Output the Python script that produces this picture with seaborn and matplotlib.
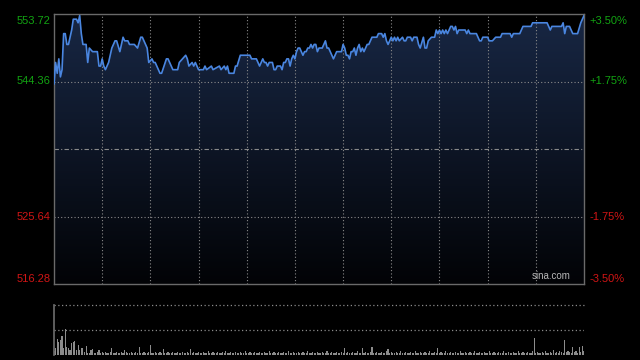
import numpy as np
import matplotlib
matplotlib.use("Agg")
import matplotlib.pyplot as plt
from matplotlib.patches import PathPatch
from matplotlib.colors import to_rgba
import seaborn as sns

# ---- data ----
prev_close = 535.0
y_labels_left = ["553.72", "544.36", "525.64", "516.28"]
y_levels = [553.72, 544.36, 525.64, 516.28]
y_labels_right = ["+3.50%", "+1.75%", "-1.75%", "-3.50%"]

minutes = [0, 1, 2, 3, 4, 5, 6, 7, 8, 9, 11, 12, 14, 15, 16, 17, 18, 20, 21, 22,
           24, 27, 28, 29, 30, 31, 32, 34, 35, 36, 38, 39, 41, 43, 44, 46, 47, 50, 52, 54,
           55, 58, 59, 61, 62, 63, 66, 67, 70, 71, 74, 77, 78, 80, 82, 83, 84, 86, 87, 88,
           89, 90, 93, 94, 95, 98, 99, 103, 104, 106, 107, 108, 109, 110, 112, 113, 114, 116, 117, 122,
           123, 126, 128, 130, 131, 132, 133, 134, 136, 137, 138, 139, 141, 142, 143, 144, 145, 146, 147, 148,
           149, 150, 151, 152, 153, 155, 156, 157, 158, 159, 160, 161, 162, 163, 164, 165, 167, 169, 170, 171,
           172, 174, 175, 176, 177, 179, 180, 181, 182, 183, 184, 185, 186, 187, 188, 189, 190, 191, 192, 193,
           195, 196, 197, 198, 201, 202, 204, 205, 206, 207, 208, 209, 210, 211, 212, 213, 214, 215, 217, 218,
           219, 220, 222, 223, 224, 225, 226, 227, 228, 230, 231, 232, 233, 235, 237, 238, 239, 240, 241, 242,
           243, 244, 245, 246, 247, 248, 249, 250, 251, 252, 254, 256, 257, 258, 259, 263, 265, 266, 267, 270,
           271, 273, 275, 278, 279, 284, 285, 286, 290, 292, 297, 298, 307, 309, 310, 316, 317, 318, 319, 321,
           323, 326, 328, 330]
prices = [544.0, 547.0, 545.5, 547.5, 545.0, 546.0, 551.0, 551.0, 549.5, 549.5, 551.5, 553.0, 553.0, 552.5, 553.5, 551.0, 549.5, 549.5, 547.0, 549.0,
          548.5, 548.5, 546.5, 546.5, 547.5, 546.5, 546.0, 547.0, 548.0, 549.0, 550.0, 550.0, 548.5, 550.5, 550.0, 550.0, 549.5, 549.5, 549.0, 550.5,
          550.5, 549.0, 547.0, 547.5, 547.0, 547.0, 545.5, 545.5, 547.5, 547.5, 546.0, 546.0, 547.0, 547.5, 548.0, 547.5, 546.5, 547.0, 546.5, 547.0,
          546.5, 546.0, 546.0, 546.5, 546.0, 546.5, 546.0, 546.5, 546.0, 546.5, 546.0, 546.5, 545.5, 545.5, 545.5, 546.5, 546.5, 548.0, 548.0, 548.0,
          547.5, 547.5, 546.5, 547.5, 547.0, 547.0, 546.5, 547.0, 547.0, 546.0, 546.0, 546.5, 546.5, 546.0, 547.0, 547.0, 547.5, 547.5, 546.5, 547.5,
          548.0, 547.5, 548.5, 549.0, 549.0, 548.0, 548.5, 548.5, 549.0, 549.0, 549.5, 549.0, 549.5, 549.5, 548.5, 549.0, 549.0, 550.0, 549.0, 549.0,
          548.5, 547.5, 548.0, 548.5, 548.5, 548.5, 549.5, 549.0, 548.0, 548.0, 547.5, 548.5, 548.5, 549.0, 548.0, 549.0, 549.5, 548.5, 549.0, 548.5,
          549.5, 549.5, 550.0, 550.5, 550.5, 551.0, 551.0, 550.5, 551.0, 550.0, 549.5, 550.0, 550.5, 550.0, 550.5, 550.0, 550.5, 550.0, 550.5, 550.0,
          550.0, 550.5, 550.5, 550.0, 550.5, 550.5, 550.5, 549.5, 549.0, 550.5, 549.0, 549.0, 550.0, 550.5, 550.5, 551.5, 551.0, 551.5, 551.0, 551.5,
          551.0, 551.5, 551.0, 551.5, 552.0, 552.0, 551.5, 552.0, 551.0, 551.5, 551.5, 551.5, 551.0, 551.5, 551.0, 551.0, 550.0, 550.0, 550.5, 550.5,
          550.0, 550.0, 550.5, 550.5, 551.0, 551.0, 550.5, 551.0, 551.0, 552.0, 552.0, 552.5, 552.5, 551.5, 552.0, 552.0, 552.5, 551.0, 552.0, 552.0,
          551.0, 551.0, 552.5, 553.5]

volume = [4, 7, 16, 13, 15, 19, 7, 26, 8, 7, 5, 12, 13, 14, 5, 10, 5, 7, 7, 3,
          9, 2, 2, 5, 6, 2, 2, 3, 5, 2, 3, 2, 3, 2, 2, 3, 7, 2, 2, 3,
          2, 2, 3, 2, 5, 3, 2, 2, 3, 2, 2, 3, 2, 8, 2, 2, 3, 2, 2, 3,
          10, 2, 2, 3, 2, 2, 3, 2, 6, 2, 2, 3, 2, 2, 3, 2, 2, 3, 2, 2,
          3, 2, 2, 3, 2, 6, 2, 3, 2, 2, 3, 2, 2, 3, 2, 2, 4, 2, 2, 3,
          2, 2, 3, 2, 2, 3, 2, 4, 2, 2, 3, 2, 2, 3, 2, 2, 3, 2, 2, 4,
          2, 2, 3, 2, 2, 3, 2, 2, 3, 2, 2, 3, 2, 2, 4, 2, 2, 3, 2, 2,
          3, 2, 2, 3, 2, 2, 4, 2, 2, 3, 2, 2, 3, 2, 2, 3, 2, 2, 4, 2,
          2, 3, 2, 2, 3, 2, 2, 3, 2, 2, 4, 2, 2, 3, 2, 2, 3, 2, 2, 3,
          2, 7, 2, 3, 2, 2, 3, 2, 2, 4, 2, 2, 7, 2, 3, 2, 2, 3, 8, 2,
          2, 3, 2, 2, 3, 2, 2, 4, 6, 2, 3, 2, 2, 3, 2, 2, 4, 2, 2, 3,
          2, 2, 3, 2, 2, 4, 2, 2, 3, 2, 2, 3, 2, 2, 4, 2, 2, 3, 2, 7,
          2, 3, 2, 2, 4, 2, 2, 3, 2, 2, 3, 2, 2, 4, 2, 2, 3, 2, 2, 3,
          2, 2, 4, 2, 2, 3, 2, 2, 3, 2, 2, 4, 2, 2, 3, 2, 2, 3, 2, 2,
          4, 2, 2, 3, 2, 2, 3, 2, 2, 4, 2, 2, 3, 2, 2, 3, 2, 2, 4, 17,
          2, 3, 2, 2, 3, 2, 4, 2, 2, 3, 2, 5, 2, 3, 2, 4, 3, 2, 15, 3,
          4, 3, 2, 8, 3, 4, 2, 8, 3, 9, 4]

# ---- style ----
sns.set_theme(style="dark")
plt.rcParams["font.family"] = ["Liberation Sans", "DejaVu Sans"]

W, H = 640, 360
fig = plt.figure(figsize=(6.4, 3.6), dpi=100, facecolor="black")

ax = fig.add_axes([54 / W, 1 - 284 / H, 530 / W, 270 / H])
axv = fig.add_axes([54 / W, 1 - 355 / H, 530 / W, 50 / H])

ymin, ymax = 516.28, 553.72
n_min = 330

for a in (ax, axv):
    a.set_facecolor("black")
    a.set_xlim(0, n_min)
    a.set_xticks([])
    a.set_yticks([])
    a.grid(False)

ax.set_ylim(ymin, ymax)

# gradient fill under the price line
poly = ax.fill_between(minutes, prices, ymin, facecolor="none", lw=0)
path = poly.get_paths()[0]
patch = PathPatch(path, transform=ax.transData, facecolor="none", edgecolor="none")
ax.add_patch(patch)
top_c = np.array(to_rgba("#182744"))
bot_c = np.array(to_rgba("#020306"))
t = np.linspace(0, 1, 256)[:, None]
grad = (top_c[None, :] * (1 - t) + bot_c[None, :] * t)[:, None, :]
im = ax.imshow(grad, extent=[0, n_min, ymin, ymax], aspect="auto", origin="upper", zorder=1)
im.set_clip_path(patch)
ax.set_xlim(0, n_min)
ax.set_ylim(ymin, ymax)

# grid lines
gcol = "#8a8a8a"
for xv in range(30, n_min, 30):
    ax.axvline(xv, color=gcol, lw=0.8, ls=(0, (1, 2)), zorder=2)
for yv in (544.36, 525.64):
    ax.axhline(yv, color=gcol, lw=0.8, ls=(0, (1, 2)), zorder=2)
ax.axhline(prev_close, color=gcol, lw=0.8, ls=(0, (4, 2, 1, 2)), zorder=2)

sns.lineplot(x=minutes, y=prices, ax=ax, color="#4a86e0", lw=1.2, zorder=4)
ax.set_xlabel("")
ax.set_ylabel("")

for s in ax.spines.values():
    s.set_visible(True)
    s.set_color("#6a6a6a")
    s.set_linewidth(1.0)

# labels
green, red = "#12a312", "#d01515"
offs_px = [-6.5, 0, 0, 5.5]
for lab_l, lab_r, yv, off in zip(y_labels_left, y_labels_right, y_levels, offs_px):
    col = green if yv > prev_close else red
    ax.annotate(lab_l, xy=(0, yv), xycoords=("axes fraction", "data"),
                xytext=(-2.5, off * 0.72), textcoords="offset points",
                ha="right", va="center", color=col, fontsize=8)
    ax.annotate(lab_r, xy=(1, yv), xycoords=("axes fraction", "data"),
                xytext=(4, off * 0.72), textcoords="offset points",
                ha="left", va="center", color=col, fontsize=8)

ax.text(0.902, 0.012, "sina.com", transform=ax.transAxes, color="#b8b8b8",
        fontsize=7, ha="left", va="bottom", zorder=5)

# volume panel
axv.set_ylim(0, 50)
axv.bar(np.arange(len(volume)), volume, width=0.7, color="#8c8c8c", linewidth=0)
axv.axhline(50, color=gcol, lw=0.9, ls=(0, (1, 2)), clip_on=False)
axv.axhline(25, color=gcol, lw=0.9, ls=(0, (1, 2)))
for k, s in axv.spines.items():
    s.set_visible(k == "left")
    s.set_color("#6a6a6a")

fig.savefig("out.png", dpi=100, facecolor="black")
